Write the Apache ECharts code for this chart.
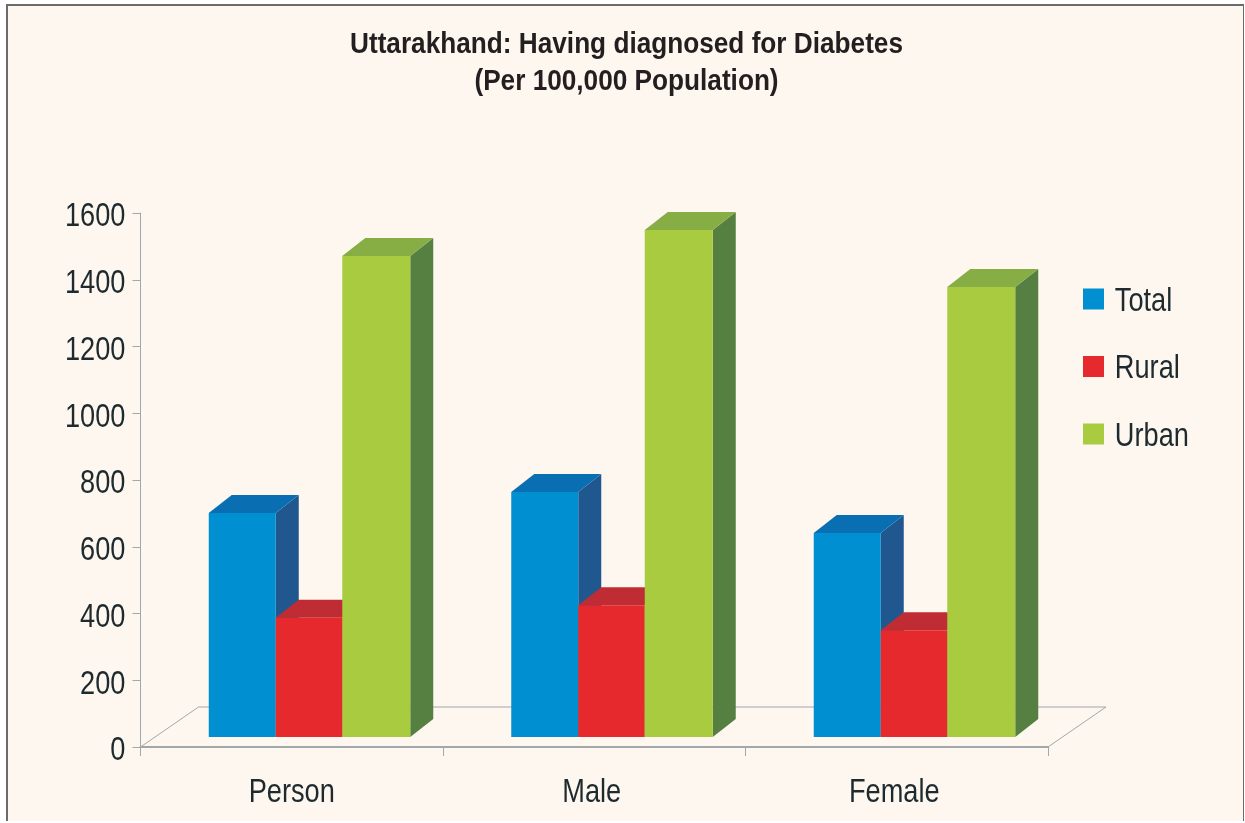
<!DOCTYPE html>
<html>
<head>
<meta charset="utf-8">
<script src="https://cdn.jsdelivr.net/npm/echarts@6/dist/echarts.min.js"></script>
<style>
html,body{margin:0;padding:0;background:#fff;width:1245px;height:823px;overflow:hidden}
#panel{position:absolute;left:6px;top:4px;width:1238px;height:817px;background:#fef7f0;border:solid #6b6b6b;border-width:2px 1px 0 2px;box-sizing:border-box}
#main{position:absolute;left:0;top:0;width:1245px;height:823px}
</style>
</head>
<body>
<div id="panel"></div>
<div id="main"></div>
<script>
const categories = ['Person', 'Male', 'Female'];
const total = [671, 734, 611];
const rural = [357, 395, 320];
const urban = [1441, 1519, 1348];
const seriesNames = ['Total', 'Rural', 'Urban'];

const faces = [
  {front: '#008fd0', top: '#0a6fb2', side: '#20578f'},
  {front: '#e5292c', top: '#c02c33', side: '#a82a30'},
  {front: '#a9cb3f', top: '#87ad45', side: '#567f42'}
];
const FONT = '"Liberation Sans", Arial, sans-serif';
const INK = '#1e2a2e';
const DX = 23, DY = 18, LIFT = 10, START = -83;
const EDGES = [0, 67, 133.5, 201.5];
const FLOOR_DX = 58, FLOOR_DY = 40;

function barRenderer(slot) {
  return function (params, api) {
    const i = api.value(0);
    const c = api.coord([i, api.value(1)]);
    const base = api.coord([i, 0]);
    const x0 = c[0] + START + EDGES[slot];
    const x1 = c[0] + START + EDGES[slot + 1];
    const yt = c[1] - LIFT;
    const yb = base[1] - LIFT;
    const f = faces[slot];
    return {
      type: 'group',
      children: [
        {type: 'polygon', shape: {points: [[x1, yt], [x1 + DX, yt - DY], [x1 + DX, yb - DY], [x1, yb]]}, style: {fill: f.side}},
        {type: 'polygon', shape: {points: [[x0, yt], [x0 + DX, yt - DY], [x1 + DX, yt - DY], [x1, yt]]}, style: {fill: f.top}},
        {type: 'rect', shape: {x: x0, y: yt, width: x1 - x0, height: yb - yt}, style: {fill: f.front}}
      ]
    };
  };
}

function floorRenderer(params) {
  const g = params.coordSys;
  const yb = g.y + g.height, xl = g.x, xr = g.x + g.width;
  return {
    type: 'polyline',
    shape: {points: [[xl, yb], [xl + FLOOR_DX, yb - FLOOR_DY], [xr + FLOOR_DX, yb - FLOOR_DY], [xr, yb]]},
    style: {fill: 'none', stroke: '#a2a7a9', lineWidth: 1}
  };
}

function barSeries(name, values, slot) {
  return {
    type: 'custom',
    name: name,
    coordinateSystem: 'cartesian2d',
    clip: false,
    z: 3 + slot,
    itemStyle: {color: faces[slot].front},
    encode: {x: 0, y: 1},
    data: values.map((v, i) => [i, v]),
    renderItem: barRenderer(slot)
  };
}

const chart = echarts.init(document.getElementById('main'), null, {renderer: 'canvas'});
chart.setOption({
  backgroundColor: 'transparent',
  animation: false,
  title: {
    text: 'Uttarakhand: Having diagnosed for Diabetes\n(Per 100,000 Population)',
    left: 621.5,
    top: 21,
    textAlign: 'center',
    textStyle: {fontFamily: FONT, fontSize: 30, fontWeight: 'bold', color: '#231f20', lineHeight: 37}
  },
  legend: {
    data: seriesNames,
    orient: 'vertical',
    left: 1078,
    top: 277,
    icon: 'rect',
    itemWidth: 21,
    itemHeight: 21,
    itemGap: 33.5,
    selectedMode: false,
    textStyle: {fontFamily: FONT, fontSize: 34, color: INK}
  },
  grid: {left: 140.5, top: 213, width: 907.5, height: 534},
  xAxis: {
    type: 'category',
    data: categories,
    axisLine: {lineStyle: {color: '#a2a7a9', width: 2}},
    axisTick: {show: true, length: 9, lineStyle: {color: '#a2a7a9', width: 1}},
    axisLabel: {fontFamily: FONT, fontSize: 34, color: INK, margin: 29}
  },
  yAxis: {
    type: 'value',
    min: 0,
    max: 1600,
    interval: 200,
    splitLine: {show: false},
    axisLine: {show: true, lineStyle: {color: '#a2a7a9', width: 1}},
    axisTick: {show: true, length: 8, lineStyle: {color: '#a2a7a9', width: 1}},
    axisLabel: {fontFamily: FONT, fontSize: 34, color: INK, margin: 15, formatter: v => String(v)}
  },
  series: [
    {type: 'custom', name: 'floor', coordinateSystem: 'cartesian2d', clip: false, z: 1, silent: true,
      encode: {x: 0, y: 1}, data: [[0, 0]], renderItem: floorRenderer},
    barSeries(seriesNames[0], total, 0),
    barSeries(seriesNames[1], rural, 1),
    barSeries(seriesNames[2], urban, 2)
  ]
});

// The reference is set in a condensed face that is not installed: narrow the real text elements
// and nudge their anchors to where that face sits.
function condense() {
  const zr = chart.getZr();
  const walk = el => {
    if (el.isGroup) { el.childrenRef().forEach(walk); return; }
    if (el.type === 'text') {
      const txt = el.style ? String(el.style.text) : '';
      const bold = el.style && el.style.fontWeight === 'bold';
      el.scaleX = bold ? 0.873 : 0.8;
      if (/^\d+$/.test(txt)) el.y += 4;
      if (seriesNames.indexOf(txt) >= 0) { el.x += 11; el.y += 2.5; }
      if (txt === categories[1] || txt === categories[2]) el.x -= 2.5;
      el.markRedraw();
    }
  };
  zr.storage.getRoots().forEach(walk);
  zr.refreshImmediately();
}
condense();
</script>
</body>
</html>
